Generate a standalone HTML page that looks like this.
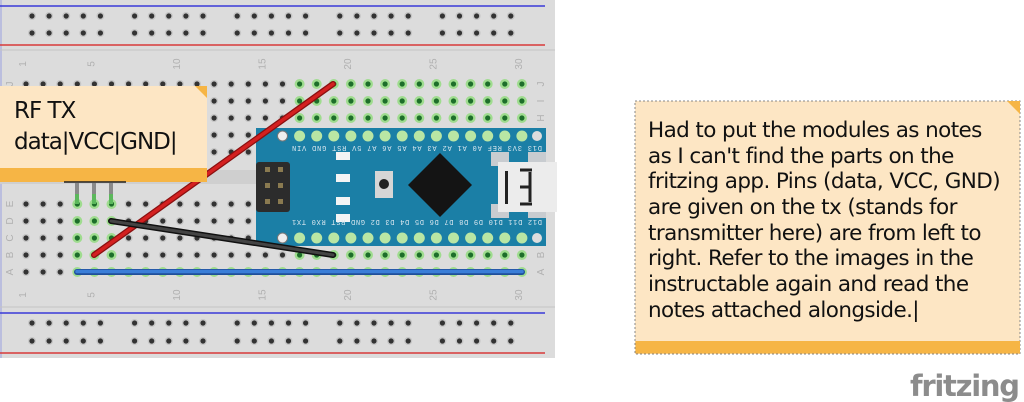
<!DOCTYPE html>
<html><head><meta charset="utf-8"><style>
html,body{margin:0;padding:0;background:#fff;width:1024px;height:402px;overflow:hidden}
svg{display:block}
</style></head><body>
<svg id="s" width="1024" height="402" xmlns="http://www.w3.org/2000/svg" font-family="Liberation Sans, sans-serif">
<rect x="0" y="0" width="555" height="358" fill="#dcdcdc"/>
<line x1="1" y1="0" x2="1" y2="358" stroke="#9aa0e0" stroke-width="1"/>
<line x1="0" y1="6" x2="545" y2="6" stroke="#3a3ad8" stroke-width="1.5"/>
<line x1="0" y1="45" x2="545" y2="45" stroke="#d83a3a" stroke-width="1.5"/>
<line x1="0" y1="50" x2="555" y2="50" stroke="#c4c4c4" stroke-width="1"/>
<rect x="0" y="170" width="555" height="14" fill="#cfcfcf"/>
<line x1="0" y1="307" x2="555" y2="307" stroke="#c4c4c4" stroke-width="1"/>
<line x1="0" y1="313" x2="545" y2="313" stroke="#3a3ad8" stroke-width="1.5"/>
<line x1="0" y1="353" x2="545" y2="353" stroke="#d83a3a" stroke-width="1.5"/>
<g id="holes"></g>
<g id="labels" fill="#b0b0b0" font-size="10"></g>
<!-- Arduino -->
<rect x="256" y="128" width="290" height="118" fill="#1b7fa6"/>
<g id="apins"></g>
<rect x="256" y="162" width="34" height="50" rx="3" fill="#2c2c2c"/>
<g fill="#8a7a50"><rect x="265" y="167" width="5" height="5"/><rect x="278" y="167" width="5" height="5"/><rect x="265" y="183" width="5" height="5"/><rect x="278" y="183" width="5" height="5"/><rect x="265" y="199" width="5" height="5"/><rect x="278" y="199" width="5" height="5"/></g>
<rect x="336" y="152" width="14" height="8" fill="#f4f4f4"/><rect x="336" y="174" width="14" height="8" fill="#f4f4f4"/><rect x="336" y="197" width="14" height="8" fill="#f4f4f4"/><rect x="336" y="214" width="14" height="8" fill="#f4f4f4"/>
<rect x="375" y="171" width="18" height="27" fill="#d6d6d6"/><circle cx="384" cy="184" r="5" fill="#222"/>
<polygon points="440,153 472,185 440,217 408,185" fill="#141414"/>
<rect x="491" y="152" width="18" height="14" fill="#c8ccd0"/><rect x="491" y="204" width="18" height="14" fill="#c8ccd0"/>
<rect x="528" y="152" width="18" height="14" fill="#c8ccd0"/><rect x="528" y="204" width="18" height="14" fill="#c8ccd0"/>
<rect x="498" y="162" width="59" height="50" fill="#ececec"/>
<rect x="505" y="171" width="3" height="33" fill="#222"/>
<path d="M530 172 v30 M530 187 h-10 M520 170 h12 M520 204 h12" stroke="#222" stroke-width="3" fill="none"/>
<g fill="#dbe8f0" font-size="7" font-family="Liberation Mono, monospace">
<text x="258" y="150" transform="rotate(180 400 148)" textLength="250">D13 3V3 REF A0 A1 A2 A3 A4 A5 A6 A7 5V RST GND VIN</text>
<text x="258" y="224" transform="rotate(180 400 222)" textLength="250">D12 D11 D10 D9 D8 D7 D6 D5 D4 D3 D2 GND RST RX0 TX1</text>
</g>
<!-- wires -->
<line x1="77" y1="272" x2="522" y2="272" stroke="#1f4f9a" stroke-width="6" stroke-linecap="round"/>
<line x1="77" y1="271.5" x2="522" y2="271.5" stroke="#3a7ed8" stroke-width="3.5" stroke-linecap="round"/>
<line x1="94" y1="255" x2="333" y2="84" stroke="#8a1010" stroke-width="6" stroke-linecap="round"/>
<line x1="94" y1="255" x2="333" y2="84" stroke="#d42020" stroke-width="3.5" stroke-linecap="round"/>
<line x1="111" y1="221" x2="333" y2="255" stroke="#111" stroke-width="6" stroke-linecap="round"/>
<line x1="111" y1="221" x2="333" y2="255" stroke="#444" stroke-width="3" stroke-linecap="round"/>
<!-- RF note -->
<rect x="0" y="86" width="207" height="96" fill="#fde6c4"/>
<rect x="0" y="168" width="207" height="14" fill="#f6b545"/>
<polygon points="195,86 207,86 207,98" fill="#f6b545"/>
<text x="14" y="118" font-size="23" fill="#111" font-family="DejaVu Sans, sans-serif" style="letter-spacing:-1px">RF TX</text>
<text x="14" y="149" font-size="23" fill="#111" font-family="DejaVu Sans, sans-serif" style="letter-spacing:-1px">data|VCC|GND|</text>
<line x1="64" y1="182" x2="126" y2="182" stroke="#222" stroke-width="1.5"/>
<g stroke="#8a8a8a" stroke-width="4"><line x1="77" y1="183" x2="77" y2="195"/><line x1="94" y1="183" x2="94" y2="195"/><line x1="111" y1="183" x2="111" y2="195"/></g>
<g stroke="#5cb85c" stroke-width="4"><line x1="77" y1="194" x2="77" y2="204"/><line x1="94" y1="194" x2="94" y2="204"/><line x1="111" y1="194" x2="111" y2="204"/></g>
<!-- right note -->
<rect x="635" y="101" width="385" height="253" fill="#fde6c4" stroke="#888" stroke-width="1" stroke-dasharray="2,2"/>
<rect x="635.5" y="341" width="384.5" height="12.5" fill="#f6b545"/>
<polygon points="1007,101 1020,101 1020,114" fill="#f6b545"/>
<g font-size="21.5" fill="#111" font-family="DejaVu Sans, sans-serif" style="letter-spacing:-0.6px">
<text x="648" y="137">Had to put the modules as notes</text>
<text x="648" y="163">as I can't find the parts on the</text>
<text x="648" y="188">fritzing app. Pins (data, VCC, GND)</text>
<text x="648" y="214">are given on the tx (stands for</text>
<text x="648" y="240">transmitter here) are from left to</text>
<text x="648" y="265">right. Refer to the images in the</text>
<text x="648" y="291">instructable again and read the</text>
<text x="648" y="317">notes attached alongside.|</text>
</g>
<text x="910" y="396" font-size="29" font-weight="bold" fill="#8c8c8c" font-family="DejaVu Sans, sans-serif" textLength="110">fritzing</text>
</svg>
<script>
var NS="http://www.w3.org/2000/svg";
function el(p,t,a){var e=document.createElementNS(NS,t);for(var k in a)e.setAttribute(k,a[k]);p.appendChild(e);return e;}
var H=document.getElementById('holes'),L=document.getElementById('labels'),AP=document.getElementById('apins');
function hole(x,y,g){if(g){el(H,'circle',{cx:x,cy:y,r:5,fill:'#9fdc8f'});el(H,'circle',{cx:x,cy:y,r:2.6,fill:'#1d6e2a'});}
else{el(H,'circle',{cx:x,cy:y,r:4,fill:'#c6c6c6'});el(H,'circle',{cx:x,cy:y,r:2.6,fill:'#333'});}}
[16,33,323,341].forEach(function(y){for(var g=0;g<5;g++)for(var i=0;i<5;i++)hole(32+g*102.6+i*17.1,y,false);});
var rows=[84,101,118,135,152,204,221,238,255,272];
for(var r=0;r<10;r++)for(var c=1;c<=30;c++){var x=26+(c-1)*17.1,y=rows[r];var g=false;
 if(r<3&&c>=17)g=true; if(r>=5&&r<=8&&c>=4&&c<=6)g=true; if(r==8&&c>=17)g=true; if(r==9&&c>=4)g=true;
 hole(x,y,g);}
[1,5,10,15,20,25,30].forEach(function(n){var x=26+(n-1)*17.1;
 [64,295].forEach(function(y){var t=el(L,'text',{x:x,y:y,'text-anchor':'middle',transform:'rotate(-90 '+x+' '+y+')'});t.textContent=n;});});
var letters="JIHGFEDCBA";
for(var r=0;r<10;r++){[10,541].forEach(function(x){var y=rows[r]+3;var t=el(L,'text',{x:x,y:y,'text-anchor':'middle',transform:'rotate(-90 '+x+' '+(y-3)+')'});t.textContent=letters[r];});}
for(var c=16;c<=30;c++){var x=26+(c-1)*17.1;[136,238].forEach(function(y){
 if(c==16){el(AP,'circle',{cx:x,cy:y,r:5,fill:'#eee',stroke:'#777'});return;}
 el(AP,'circle',{cx:x,cy:y,r:5.5,fill:'#b9e6a4'});});}
el(AP,'circle',{cx:537,cy:136,r:5,fill:'#ddd'});el(AP,'circle',{cx:537,cy:238,r:5,fill:'#ddd'});
</script>
</body></html>
